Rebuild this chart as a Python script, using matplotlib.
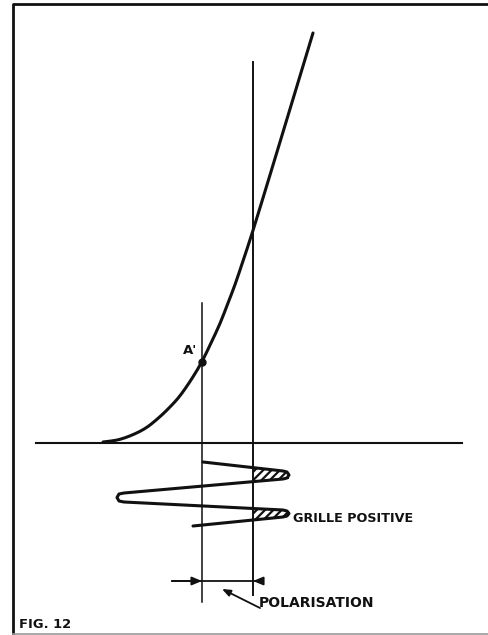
import matplotlib
matplotlib.use("Agg")
import matplotlib.pyplot as plt
import numpy as np
from matplotlib.path import Path
from matplotlib.patches import PathPatch

# drawing units: image pixels, y grows downward (schematic, no real scale)
# tube transfer characteristic (grid voltage -> anode current)
curve_x = [103, 112, 120, 130, 140, 148, 155, 163, 170, 178, 185, 193, 202,
           211, 220, 228, 235, 243, 252, 270, 290, 313]
curve_y = [442, 441, 439.5, 436, 431.5, 426.7, 421, 414, 407, 398.5, 389, 377, 362,
           343, 324, 303, 285, 261, 234, 175, 109, 33]

# operating point A'
point_a = (202, 362)

# grid signal drawn below the axis (time runs downward)
wave_x = [203, 283, 287, 289, 287, 283, 124, 119, 117, 119, 124, 283, 287, 289, 287, 283, 193]
wave_y = [462, 471, 472, 475, 478, 479, 493, 494, 497.5, 501, 502, 510, 511, 513.5, 516, 517, 526]

# verticals: bias position and zero-grid position
bias_x, bias_top, bias_bot = 202, 303, 602
zero_x, zero_top, zero_bot = 253, 62, 595

axis_y, axis_x0, axis_x1 = 443, 36, 462
dim_y, dim_x0, dim_x1 = 581, 172, 263

C_INK = "#111111"
FONT = dict(family="DejaVu Sans", weight="bold", color=C_INK)
plt.rcParams["hatch.linewidth"] = 1.6


def smooth_path(xs, ys):
    """Quadratic Bezier through the midpoints of the read points."""
    pts = np.column_stack([xs, ys]).astype(float)
    verts = [pts[0]]
    codes = [Path.MOVETO]
    for k in range(1, len(pts) - 1):
        mid = (pts[k] + pts[k + 1]) / 2
        if k == len(pts) - 2:
            mid = pts[k + 1]
        verts += [pts[k], mid]
        codes += [Path.CURVE3, Path.CURVE3]
    return Path(verts, codes)


fig = plt.figure(figsize=(4.88, 6.35), dpi=100)
ax = fig.add_axes([0, 0, 1, 1])
ax.set_xlim(0, 488)
ax.set_ylim(635, 0)
ax.set_axis_off()

# frame
ax.plot([13, 13, 488], [635, 4, 4], color=C_INK, lw=2.0, solid_capstyle="butt")
ax.plot([13, 488], [634, 634], color="#999999", lw=1.2)

# axis and verticals
ax.plot([axis_x0, axis_x1], [axis_y, axis_y], color=C_INK, lw=1.5)
ax.plot([bias_x, bias_x], [bias_top, bias_bot], color=C_INK, lw=1.1)
ax.plot([zero_x, zero_x], [zero_top, zero_bot], color=C_INK, lw=1.4)

# characteristic
ax.add_patch(PathPatch(smooth_path(curve_x, curve_y), facecolor="none",
                       edgecolor=C_INK, lw=2.2, capstyle="round"))
ax.plot(*point_a, "o", color=C_INK, markersize=5)
ax.text(183, 351, "A'", fontsize=9.5, ha="left", va="center", **FONT)

# grid signal
ax.plot(wave_x, wave_y, color=C_INK, lw=2.2, solid_capstyle="round",
        solid_joinstyle="round")

# hatched parts of the peaks beyond zero grid voltage
wx = np.array(wave_x, float)
wy = np.array(wave_y, float)
for i0, i1, j0, j1 in ((0, 2, 5, 7), (10, 12, 15, 17)):
    # upper branch points i0..i1, lower branch points j0..j1 (reversed in x)
    ux, uy = wx[i0:i1 + 1], wy[i0:i1 + 1]
    lx, ly = wx[j0:j1 + 1][::-1], wy[j0:j1 + 1][::-1]
    tip = wx[i1 + 1]
    xs = np.linspace(zero_x, tip, 30)
    up = np.interp(xs, ux, uy)
    lo = np.interp(xs, lx, ly)
    ax.fill_between(xs, up, lo, facecolor="none", edgecolor=C_INK,
                    hatch="////", linewidth=0)

ax.text(293, 519, "GRILLE POSITIVE", fontsize=9.2, ha="left", va="center", **FONT)

# bias dimension
ax.plot([dim_x0, dim_x1], [dim_y, dim_y], color=C_INK, lw=1.3)
arrow = dict(arrowstyle="-|>,head_length=0.6,head_width=0.25", color=C_INK,
             lw=1.3, shrinkA=0, shrinkB=0)
ax.annotate("", xy=(bias_x, dim_y), xytext=(dim_x0, dim_y), arrowprops=arrow)
ax.annotate("", xy=(zero_x, dim_y), xytext=(dim_x1, dim_y), arrowprops=arrow)
ax.annotate("", xy=(222, 589), xytext=(260, 608),
            arrowprops=dict(arrowstyle="-|>,head_length=0.5,head_width=0.2",
                            color=C_INK, lw=1.3, shrinkA=0, shrinkB=0))
ax.text(259, 603, "POLARISATION", fontsize=10, ha="left", va="center", **FONT)

ax.text(19, 625, "FIG. 12", fontsize=9.4, ha="left", va="center", **FONT)

fig.savefig("out.png", dpi=100)
